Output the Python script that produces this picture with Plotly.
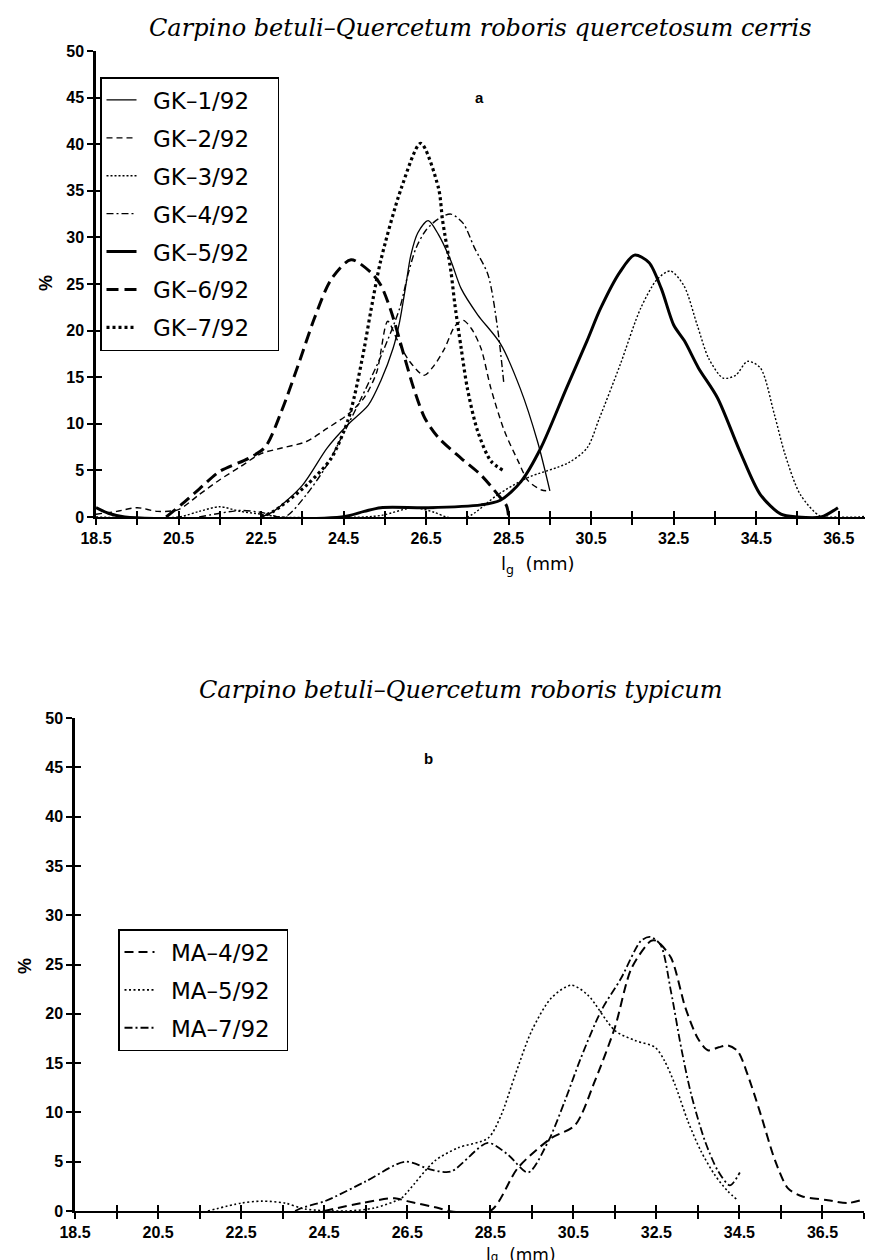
import plotly.graph_objects as go

# ---------------- data (top panel a) ----------------
GK1_x = [22.5, 22.8, 23.5, 24.1, 24.6, 25.1, 25.4, 25.7, 25.86, 26.0, 26.13, 26.3, 26.55, 26.8, 27.1, 27.35, 27.75, 28.3, 28.78, 29.2, 29.5]
GK1_y = [0, 0.6, 3.4, 7.4, 9.9, 12, 14.6, 18.1, 21, 24.6, 28.1, 30.5, 31.8, 30.3, 27.5, 24.5, 21.7, 18.6, 13.8, 8.1, 2.8]

GK2_x = [18.5, 19.0, 19.5, 20.0, 20.5, 21.0, 21.5, 22.0, 22.5, 23.0, 23.6, 24.1, 24.6, 25.0, 25.3, 25.57, 25.8, 26.1, 26.45, 26.7, 26.95, 27.2, 27.4, 27.6, 27.83, 28.07, 28.4, 28.73, 28.97, 29.3, 29.5]
GK2_y = [0.3, 0.6, 1.0, 0.6, 0.8, 2.4, 4.0, 5.4, 6.8, 7.4, 8.1, 9.5, 11.0, 12.8, 15.5, 21, 19, 16.7, 15.2, 16.3, 18.1, 20.5, 21.1, 20.2, 18.1, 13.8, 9.2, 6.0, 3.9, 2.9, 2.8]

GK3_x = [18.5, 20.5, 21.0, 21.5, 22.0, 22.5, 23.0, 25.0, 25.45, 26.2, 26.7, 27.0, 27.5, 28.24, 28.95, 29.94, 30.4, 30.7, 31.2, 31.7, 32.1, 32.42, 32.75, 33.07, 33.35, 33.7, 34.0, 34.29, 34.6, 34.94, 35.2, 35.57, 36.05, 36.5, 37.0, 37.5]
GK3_y = [0, 0, 0.6, 1.1, 0.6, 0.3, 0, 0, 0.2, 1.0, 0.5, 0, 0, 2.4, 4.2, 5.8, 7.4, 10.6, 16.3, 22.4, 25.5, 26.4, 24.8, 20.6, 17, 14.9, 15.2, 16.7, 16, 11, 6.7, 2.4, 0.1, 0, 0, 0.3]

GK4_x = [21.0, 21.5, 22.0, 22.5, 23.07, 23.6, 24.1, 24.4, 24.9, 25.4, 25.86, 26.06, 26.26, 26.5, 26.8, 27.1, 27.4, 27.67, 28.0, 28.24, 28.38]
GK4_y = [0, 0.4, 0.7, 0.5, 0, 2.4, 5.6, 8.1, 12.5, 17.2, 22.4, 26, 28.9, 30.8, 32, 32.5, 31.5, 28.9, 26, 20, 14.5]

GK5_x = [18.5, 18.8, 19.2, 24.45, 25.0, 25.4, 26.55, 27.83, 28.3, 28.8, 29.28, 29.9, 30.4, 30.73, 31.2, 31.55, 31.9, 32.2, 32.5, 32.76, 33.1, 33.56, 34.1, 34.6, 35.1, 35.5, 36.07, 36.48]
GK5_y = [1.0, 0.4, 0, 0, 0.6, 1.0, 1.0, 1.3, 1.8, 3.8, 7.4, 13.8, 18.9, 22.4, 26.3, 28.1, 27.3, 24.5, 20.6, 18.9, 16, 12.8, 7.1, 2.4, 0.3, 0, 0, 1.0]

GK6_x = [20.2, 20.56, 21.0, 21.5, 22.2, 22.6, 23.0, 23.4, 23.8, 24.2, 24.68, 25.17, 25.4, 25.65, 25.98, 26.2, 26.47, 26.8, 27.35, 27.83, 28.24, 28.45, 28.5]
GK6_y = [0, 1.3, 3.0, 4.9, 6.3, 7.5, 11.4, 16.3, 21.4, 25.5, 27.6, 26.2, 24.9, 22.1, 17.1, 13.8, 10.6, 8.5, 6.3, 4.5, 2.4, 1.2, 0]

GK7_x = [22.5, 22.8, 23.6, 24.2, 24.6, 24.77, 25.0, 25.16, 25.4, 25.9, 26.37, 26.8, 26.9, 27.1, 27.2, 27.35, 27.5, 27.75, 28.07, 28.4]
GK7_y = [0, 0.6, 3.4, 6.3, 10.3, 13.1, 18.1, 22.1, 27.5, 35.3, 40.1, 35.3, 31.8, 26.4, 22.7, 18.1, 13.8, 9.2, 6.0, 4.9]

# ---------------- data (bottom panel b) ----------------
MA4_x = [24.5, 25.4, 26.2, 26.5, 27.25, 27.5, 28.5, 29.17, 29.97, 30.54, 31.02, 31.5, 31.9, 32.37, 32.5, 32.85, 33.2, 33.5, 33.74, 34.0, 34.22, 34.46, 34.7, 35.02, 35.36, 35.67, 36.0, 36.63, 37.1, 37.5]
MA4_y = [0, 0.8, 1.3, 1.0, 0.3, 0, 0, 4.4, 7.4, 8.7, 13.2, 18.6, 24.6, 27.4, 27.4, 25.7, 20.6, 17.5, 16.3, 16.6, 16.8, 16.2, 13.8, 9.7, 5.1, 2.3, 1.5, 1.1, 0.8, 1.2]

MA5_x = [21.7, 22.5, 23.0, 23.56, 24.04, 25.0, 25.7, 26.36, 26.52, 27.17, 27.72, 28.45, 28.76, 29.1, 29.5, 29.97, 30.45, 30.85, 31.5, 31.98, 32.47, 32.7, 32.95, 33.26, 33.57, 33.9, 34.22, 34.46]
MA5_y = [0, 0.8, 1.0, 0.8, 0.2, 0, 0.3, 1.3, 2.0, 5.1, 6.4, 7.4, 9.7, 13.8, 18.3, 21.6, 22.9, 21.9, 18.3, 17.3, 16.6, 15.2, 12.8, 9.1, 6.1, 3.7, 2.0, 1.1]

MA7_x = [23.8, 23.95, 24.52, 25.5, 26.45, 27.07, 27.55, 28.44, 28.93, 29.41, 29.9, 30.3, 30.68, 31.17, 31.65, 32.13, 32.35, 32.6, 32.85, 33.1, 33.34, 33.67, 33.98, 34.27, 34.51]
MA7_y = [0, 0.3, 1.0, 3.0, 5.0, 4.2, 4.0, 6.9, 5.7, 3.9, 7.1, 11.2, 15.5, 20.3, 23.6, 27.4, 27.8, 27, 22.3, 16.5, 11.8, 7.1, 4.1, 2.6, 3.9]

top_names = ["GK–1/92", "GK–2/92", "GK–3/92", "GK–4/92", "GK–5/92", "GK–6/92", "GK–7/92"]
bot_names = ["MA–4/92", "MA–5/92", "MA–7/92"]

x_tickvals = [18.5 + i for i in range(20)]
x_ticktext = [("%.1f" % v) if (i % 2 == 0 and v < 37) else "" for i, v in enumerate(x_tickvals)]
y_tickvals = list(range(0, 51, 5))

title_a = "Carpino betuli–Quercetum roboris quercetosum cerris"
title_b = "Carpino betuli–Quercetum roboris typicum"

# ---------------- figure ----------------
W, H = 873, 1260
fig = go.Figure()

SP = "\u2002"  # en space padding inside legend entries

top_series = [
    (GK1_x, GK1_y, dict(width=1.3, dash="solid")),
    (GK2_x, GK2_y, dict(width=1.4, dash="6px,4px")),
    (GK3_x, GK3_y, dict(width=1.4, dash="2px,2px")),
    (GK4_x, GK4_y, dict(width=1.4, dash="7px,3px,2px,3px")),
    (GK5_x, GK5_y, dict(width=3.0, dash="solid")),
    (GK6_x, GK6_y, dict(width=3.0, dash="12px,6px")),
    (GK7_x, GK7_y, dict(width=3.2, dash="3px,3px")),
]
for i, (xs, ys, ln) in enumerate(top_series):
    fig.add_trace(go.Scatter(x=xs, y=ys, mode="lines", name=SP + top_names[i] + SP + SP,
                             line=dict(color="black", shape="spline", smoothing=0.8, **ln),
                             xaxis="x", yaxis="y", legend="legend", legendgroup="t%d" % i,
                             cliponaxis=False))

bot_series = [
    (MA4_x, MA4_y, dict(width=2.0, dash="9px,5px")),
    (MA5_x, MA5_y, dict(width=1.6, dash="2px,2.5px")),
    (MA7_x, MA7_y, dict(width=1.8, dash="8px,3px,2px,3px")),
]
for i, (xs, ys, ln) in enumerate(bot_series):
    fig.add_trace(go.Scatter(x=xs, y=ys, mode="lines", name=SP + bot_names[i] + SP,
                             line=dict(color="black", shape="spline", smoothing=0.8, **ln),
                             xaxis="x2", yaxis="y2", legend="legend2", legendgroup="b%d" % i,
                             cliponaxis=False))

# dummy traces for overlay (crossing tick) axes
fig.add_trace(go.Scatter(x=[None], y=[None], xaxis="x3", yaxis="y3", showlegend=False, hoverinfo="skip"))
fig.add_trace(go.Scatter(x=[None], y=[None], xaxis="x4", yaxis="y4", showlegend=False, hoverinfo="skip"))

def px_x(p):
    return p / W

def px_y(p):
    return 1 - p / H

tickfont = dict(family="Liberation Sans", size=16, color="black", weight="bold")

top_xdom = [px_x(88), px_x(872)]
top_ydom = [px_y(509), px_y(43)]
bot_xdom = [px_x(67), px_x(856)]
bot_ydom = [px_y(1203), px_y(710)]

def xax(dom, anchor, labels=True, ticks="outside", overlay=None):
    d = dict(domain=dom, anchor=anchor, range=[18.5, 37.5], autorange=False,
             showline=True, linecolor="black", linewidth=2,
             showgrid=False, zeroline=False, ticks=ticks, ticklen=6, tickwidth=2,
             tickcolor="black", tickmode="array", tickvals=x_tickvals,
             ticktext=x_ticktext, showticklabels=labels, tickfont=tickfont,
             automargin=False, fixedrange=True)
    if overlay:
        d["overlaying"] = overlay
    return d

def yax(dom, anchor, labels=True, ticks="outside", overlay=None):
    d = dict(domain=dom, anchor=anchor, range=[0, 50], autorange=False,
             showline=True, linecolor="black", linewidth=2.5,
             showgrid=False, zeroline=False, ticks=ticks, ticklen=6, tickwidth=2,
             tickcolor="black", tickmode="array", tickvals=y_tickvals,
             showticklabels=labels, tickfont=tickfont, automargin=False, fixedrange=True)
    if overlay:
        d["overlaying"] = overlay
    return d

legend_common = dict(bgcolor="white", bordercolor="black", borderwidth=1.5,
                     font=dict(family="DejaVu Sans", size=23, color="black"),
                     xanchor="left", yanchor="top", tracegroupgap=5,
                     itemwidth=30, traceorder="grouped")

fig.update_layout(
    width=W, height=H,
    margin=dict(l=0, r=0, t=0, b=0),
    paper_bgcolor="white", plot_bgcolor="rgba(0,0,0,0)",
    showlegend=True,
    xaxis=xax(top_xdom, "y"),
    yaxis=yax(top_ydom, "x"),
    xaxis2=xax(bot_xdom, "y2"),
    yaxis2=yax(bot_ydom, "x2"),
    xaxis3=xax(top_xdom, "y", labels=False, ticks="inside", overlay="x"),
    yaxis3=yax(top_ydom, "x", labels=False, ticks="inside", overlay="y"),
    xaxis4=xax(bot_xdom, "y2", labels=False, ticks="inside", overlay="x2"),
    yaxis4=yax(bot_ydom, "x2", labels=False, ticks="inside", overlay="y2"),
    legend=dict(x=px_x(92), y=px_y(69), **legend_common),
    legend2=dict(x=px_x(110), y=px_y(921), **legend_common),
)

ann = []
title_font = dict(family="DejaVu Serif", size=24, color="black")
ann.append(dict(text="<i>" + title_a + "</i>", x=px_x(472), y=px_y(20), xref="paper", yref="paper",
                showarrow=False, font=title_font, xanchor="center", yanchor="middle"))
ann.append(dict(text="<i>" + title_b + "</i>", x=px_x(452), y=px_y(682), xref="paper", yref="paper",
                showarrow=False, font=title_font, xanchor="center", yanchor="middle"))
lab_font = dict(family="Liberation Sans", size=15, color="black", weight="bold")
ann.append(dict(text="a", x=px_x(471), y=px_y(90), xref="paper", yref="paper", showarrow=False,
                font=lab_font, xanchor="center", yanchor="middle"))
ann.append(dict(text="b", x=px_x(420), y=px_y(750), xref="paper", yref="paper", showarrow=False,
                font=lab_font, xanchor="center", yanchor="middle"))
pct_font = dict(family="Liberation Sans", size=18, color="black", weight="bold")
ann.append(dict(text="%", x=px_x(38), y=px_y(275), xref="paper", yref="paper", showarrow=False,
                font=pct_font, textangle=-90, xanchor="center", yanchor="middle"))
ann.append(dict(text="%", x=px_x(17), y=px_y(958), xref="paper", yref="paper", showarrow=False,
                font=pct_font, textangle=-90, xanchor="center", yanchor="middle"))
xt_font = dict(family="DejaVu Sans", size=18, color="black")
xt_font_b = dict(family="DejaVu Sans", size=17, color="black")
ann.append(dict(text="l<sub>g</sub>  (mm)", x=px_x(530), y=px_y(557), xref="paper", yref="paper",
                showarrow=False, font=xt_font, xanchor="center", yanchor="middle"))
ann.append(dict(text="l<span style='font-size:12px'>g</span>  (mm)", x=px_x(513), y=px_y(1258),
                xref="paper", yref="paper", showarrow=False, font=xt_font_b,
                xanchor="center", yanchor="bottom", borderpad=0))
fig.update_layout(annotations=ann)

fig.write_html("out.html")
